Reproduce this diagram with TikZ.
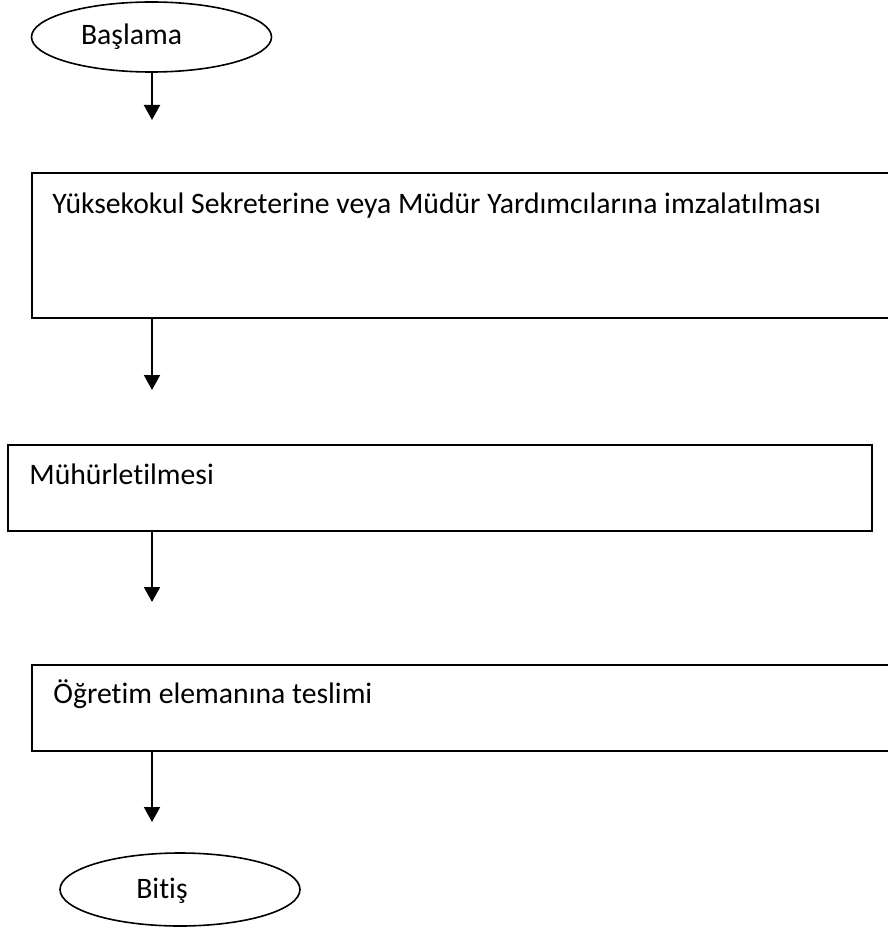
\documentclass[tikz,border=0pt]{standalone}
\usepackage{fontspec}
\setmainfont[Ligatures=NoCommon]{Carlito}
\usetikzlibrary{arrows.meta,shapes.geometric}

\begin{document}
\begin{tikzpicture}[x=0.5pt,y=-0.5pt,
  kutu/.style={draw,line width=1pt,inner sep=0pt},
  oval/.style={draw,ellipse,line width=0.8pt,inner sep=0pt,minimum width=120pt},
  yazi/.style={inner sep=0pt,font=\fontsize{14.85}{17}\selectfont},
  ok/.style={-{Triangle[length=7.5pt,width=8pt]},line width=1pt}]
 \useasboundingbox (0,0) rectangle (888,931);
 \clip (0,0) rectangle (888,931);
 % baslangic ve bitis
 \node[oval,minimum height=35pt] (basla) at (151.5,37) {};
 \node[yazi] (baslaT) at (131.5,37) {Başlama};
 \node[oval,minimum height=36.5pt] (bitis) at (180,889.5) {};
 \node[yazi] (bitisT) at (162,891) {Bitiş};
 % adimlar
 \node[kutu,minimum width=430pt,minimum height=72.5pt] (imza) at (462,245.5) {};
 \node[yazi,anchor=base west] (imzaT) at (52,213) {Yüksekokul Sekreterine veya Müdür Yardımcılarına imzalatılması};
 \node[kutu,minimum width=432pt,minimum height=43pt] (muhur) at (440,488) {};
 \node[yazi,anchor=base west] (muhurT) at (29,484) {Mühürletilmesi};
 \node[kutu,minimum width=430pt,minimum height=43pt] (teslim) at (462,708) {};
 \node[yazi,anchor=base west] (teslimT) at (53,703) {Öğretim elemanına teslimi};
 % oklar
 \coordinate (u1) at (152,120);
 \coordinate (u2) at (152,390);
 \coordinate (u3) at (152,602);
 \coordinate (u4) at (152,822);
 \draw[ok] (basla.south -| u1) -- (u1);
 \draw[ok] (imza.south -| u2) -- (u2);
 \draw[ok] (muhur.south -| u3) -- (u3);
 \draw[ok] (teslim.south -| u4) -- (u4);
\end{tikzpicture}
\end{document}
